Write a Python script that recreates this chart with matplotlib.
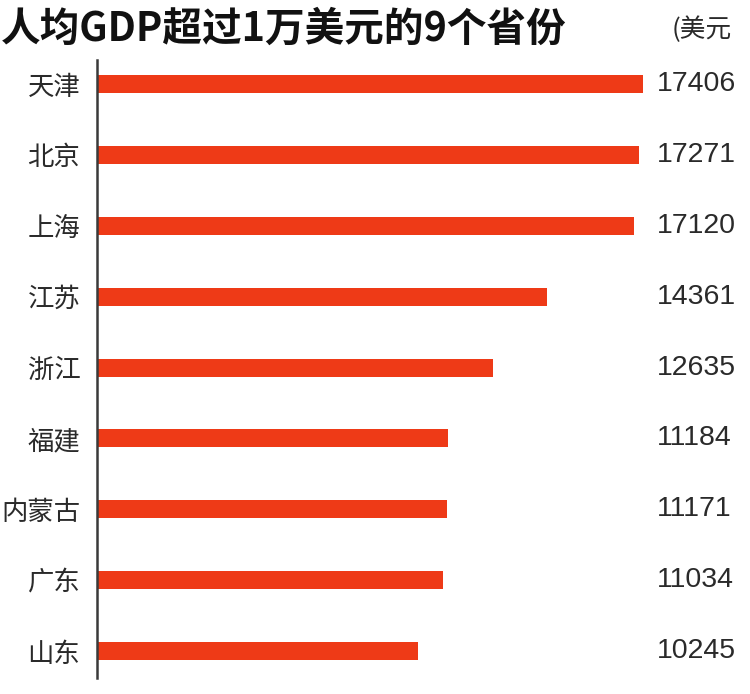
import matplotlib.pyplot as plt
import matplotlib.transforms as mtransforms

plt.rcParams['font.family'] = ['Noto Sans CJK SC', 'DejaVu Sans']

# 数据
provinces = ['天津', '北京', '上海', '江苏', '浙江', '福建', '内蒙古', '广东', '山东']
gdp_pc = [17406, 17271, 17120, 14361, 12635, 11184, 11171, 11034, 10245]
titulo = '人均GDP超过1万美元的9个省份'
unidad = '(美元'

W, H = 750, 694
fig = plt.figure(figsize=(W / 100, H / 100), dpi=100)
fig.patch.set_facecolor('white')

# axes: x de 97 a 643 px (0..17406), y de 60 a 678 px
ax = fig.add_axes([97 / W, 1 - 678 / H, (643 - 97) / W, (678 - 60) / H])
pos = list(range(len(provinces)))
ax.barh(pos, gdp_pc, height=0.255, color='#ee3a17', zorder=2)
ax.set_xlim(0, max(gdp_pc))
ax.set_ylim(8.38, -0.339)

for s in ['top', 'right', 'bottom']:
    ax.spines[s].set_visible(False)
ax.spines['left'].set_color('#3a3a3a')
ax.spines['left'].set_linewidth(1.8)
ax.set_xticks([])
ax.set_yticks(pos)
ax.set_yticklabels(provinces, fontsize=19, color='#2a2a2a')
ax.tick_params(axis='y', length=0, pad=12)

# valores a la derecha
trans = mtransforms.blended_transform_factory(fig.transFigure, ax.transData)
for i, v in enumerate(gdp_pc):
    ax.text(657 / W, i, str(v), transform=trans, fontsize=20.5,
            family='Liberation Sans', color='#2a2a2a', va='center', ha='left',
            clip_on=False)

# titulo y unidad
fig.text(1 / W, 1 - 29 / H, titulo, fontsize=28.5, weight='heavy',
         color='#111111', va='center', ha='left')
fig.text(672 / W, 1 - 30 / H, unidad, fontsize=18.5, color='#2a2a2a',
         va='center', ha='left')

fig.savefig('out.png', dpi=100, facecolor='white')
